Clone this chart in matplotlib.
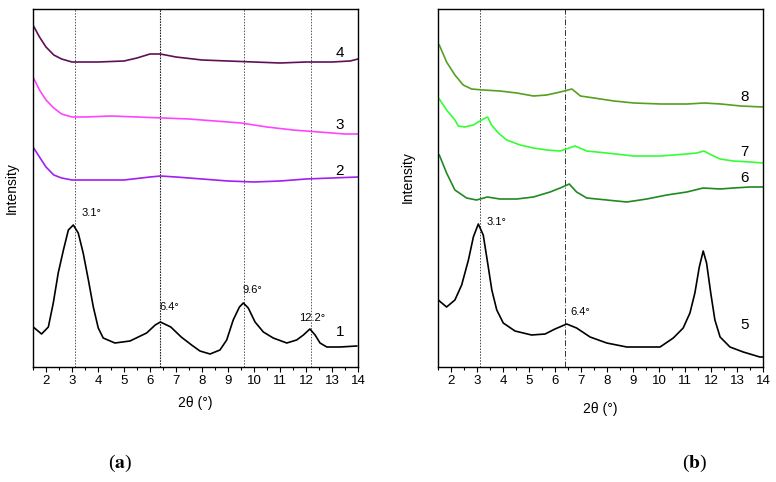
import matplotlib
matplotlib.use("Agg")
import matplotlib.pyplot as plt
from matplotlib.ticker import MultipleLocator

plt.rcParams['font.family'] = ['Liberation Sans', 'DejaVu Sans']
plt.rcParams['mathtext.fontset'] = 'stix'

# intensity in arbitrary units
# panel (a)
x1 = [1.51, 1.83, 2.09, 2.28, 2.47, 2.67, 2.86, 3.05, 3.24, 3.43, 3.63, 3.82, 4.01, 4.2, 4.65, 5.23, 5.87,
      6.2, 6.4, 6.8, 7.2, 7.6, 7.92, 8.31, 8.69, 8.95, 9.2, 9.44, 9.59, 9.78, 10.04, 10.36, 10.74, 11.26,
      11.64, 11.9, 12.15, 12.35, 12.54, 12.8, 13.31, 13.95]
y1 = [40, 33, 40, 64, 94, 117, 137, 142, 134, 114, 87, 60, 39, 29, 24, 26, 34,
      42, 45, 40, 30, 22, 16, 13, 17, 27, 47, 60, 64, 59, 45, 35, 29, 24,
      27, 32, 38, 32, 24, 20, 20, 21]

x2 = [1.5, 1.75, 2.0, 2.3, 2.6, 3.0, 4.0, 5.0, 6.0, 6.4, 7.0, 8.0, 9.0, 10.0, 11.0, 12.0, 13.0, 14.0]
y2 = [220, 210, 200, 192, 189, 187, 187, 187, 190, 191, 190, 188, 186, 185, 186, 188, 189, 190]

x3 = [1.5, 1.75, 2.0, 2.3, 2.6, 3.0, 3.5, 4.5, 5.5, 6.5, 7.5, 8.5, 9.5, 10.5, 11.5, 12.5, 13.5, 14.0]
y3 = [290, 277, 267, 259, 253, 250, 250, 251, 250, 249, 248, 246, 244, 240, 237, 235, 233, 233]

x4 = [1.5, 1.75, 2.0, 2.3, 2.6, 3.0, 4.0, 5.0, 5.5, 6.0, 6.4, 7.0, 8.0, 9.0, 10.0, 11.0, 12.0, 13.0, 13.7, 14.0]
y4 = [342, 330, 320, 312, 308, 305, 305, 306, 309, 313, 313, 310, 307, 306, 305, 304, 305, 305, 306, 308]

# panel (b)
x5 = [1.51, 1.83, 2.15, 2.41, 2.67, 2.86, 3.05, 3.24, 3.41, 3.57, 3.76, 4.01, 4.46, 5.1, 5.62, 6.0, 6.45,
      6.83, 7.35, 7.99, 8.76, 9.53, 10.04, 10.55, 10.93, 11.19, 11.38, 11.55, 11.7, 11.83, 11.99, 12.15,
      12.35, 12.73, 13.24, 13.88, 14.0]
y5 = [67, 60, 67, 82, 107, 130, 143, 132, 104, 77, 57, 44, 36, 32, 33, 38, 43,
      39, 30, 24, 20, 20, 20, 29, 39, 54, 74, 100, 116, 104, 74, 47,
      30, 20, 15, 10, 10]

x6 = [1.55, 1.83, 2.15, 2.6, 2.98, 3.4, 3.88, 4.53, 5.17, 5.81, 6.2, 6.55, 6.83, 7.22, 7.99, 8.76, 9.53,
      10.3, 11.07, 11.7, 12.35, 12.86, 13.5, 13.99]
y6 = [212, 194, 177, 169, 167, 170, 168, 168, 170, 175, 179, 183, 175, 169, 167, 165, 168,
      172, 175, 179, 178, 179, 180, 180]

x7 = [1.55, 1.83, 2.15, 2.28, 2.53, 2.86, 3.05, 3.25, 3.41, 3.56, 3.82, 4.14, 4.66, 5.17, 5.68, 6.2, 6.77,
      7.22, 7.99, 9.02, 10.04, 11.07, 11.45, 11.73, 12.02, 12.35, 12.86, 13.5, 13.99]
y7 = [268, 257, 247, 241, 240, 242, 245, 248, 250, 242, 234, 227, 222, 219, 217, 216, 221,
      216, 214, 211, 211, 213, 214, 216, 212, 208, 206, 205, 204]

x8 = [1.55, 1.83, 2.15, 2.47, 2.79, 3.24, 3.88, 4.53, 5.17, 5.68, 6.2, 6.65, 6.98, 7.5, 8.27, 9.04,
      10.07, 11.1, 11.74, 12.38, 13.15, 13.99]
y8 = [322, 305, 292, 282, 278, 277, 276, 274, 271, 272, 275, 278, 271, 269, 266, 264, 263, 263, 264, 263, 261, 260]

# line colours
c1 = '#000000'
c2 = '#a020f0'
c3 = '#ff44ff'
c4 = '#5e1055'
c5 = '#000000'
c6 = '#1f8a1f'
c7 = '#33ff33'
c8 = '#56a020'

W, H = 776, 482
fig = plt.figure(figsize=(W / 100, H / 100), dpi=100)
axa = fig.add_axes([33 / W, (H - 367) / H, 325 / W, 358 / H])
axb = fig.add_axes([438 / W, (H - 367) / H, 325 / W, 358 / H])


def setup(ax):
    ax.set_xlim(1.5, 14)
    ax.set_ylim(0, 358)
    ax.xaxis.set_major_locator(MultipleLocator(1))
    ax.xaxis.set_minor_locator(MultipleLocator(0.5))
    ax.tick_params(axis='x', which='major', direction='out', length=3.5, width=0.8,
                   labelsize=9.5, pad=2)
    ax.tick_params(axis='x', which='minor', direction='out', length=2, width=0.8)
    ax.set_yticks([])
    for s in ax.spines.values():
        s.set_linewidth(1.0)
    ax.set_xlabel('2θ (°)', fontsize=10)
    ax.set_ylabel('Intensity', fontsize=10)


setup(axa)
setup(axb)
axa.xaxis.set_label_coords(0.5, -0.08)
axb.xaxis.set_label_coords(0.5, -0.097)
axa.yaxis.set_label_coords(-0.045, 0.5)
axb.yaxis.set_label_coords(-0.07, 0.53)

# reference lines
for pos in [3.1, 9.6, 12.2]:
    axa.axvline(pos, color='#555555', ls=(0, (1.5, 1.5)), lw=0.7, zorder=1)
axa.axvline(6.4, color='#222222', ls=(0, (1.5, 1)), lw=0.8, zorder=1)
axb.axvline(3.1, color='#444444', ls=(0, (1.5, 1.5)), lw=0.7, zorder=1)
axb.axvline(6.4, color='#333333', ls=(0, (6, 2, 1, 2)), lw=0.7, zorder=1)

lw = 1.2
axa.plot(x1, y1, color=c1, lw=lw)
axa.plot(x2, y2, color=c2, lw=lw)
axa.plot(x3, y3, color=c3, lw=lw)
axa.plot(x4, y4, color=c4, lw=lw)

axb.plot(x5, y5, color=c5, lw=lw)
axb.plot(x6, y6, color=c6, lw=lw)
axb.plot(x7, y7, color=c7, lw=lw)
axb.plot(x8, y8, color=c8, lw=lw)

# curve numbers
fs = 11
axa.text(13.3, 35, '1', fontsize=fs, ha='center', va='center')
axa.text(13.3, 196, '2', fontsize=fs, ha='center', va='center')
axa.text(13.3, 242, '3', fontsize=fs, ha='center', va='center')
axa.text(13.3, 314, '4', fontsize=fs, ha='center', va='center')
axb.text(13.3, 42, '5', fontsize=fs, ha='center', va='center')
axb.text(13.3, 189, '6', fontsize=fs, ha='center', va='center')
axb.text(13.3, 215, '7', fontsize=fs, ha='center', va='center')
axb.text(13.3, 270, '8', fontsize=fs, ha='center', va='center')

# peak positions
fa = 8
axa.text(3.35, 154, '3.1°', fontsize=fa, ha='left', va='center')
axa.text(6.35, 60, '6.4°', fontsize=fa, ha='left', va='center')
axa.text(9.55, 77, '9.6°', fontsize=fa, ha='left', va='center')
axa.text(12.25, 49, '12.2°', fontsize=fa, ha='center', va='center')
axb.text(3.35, 145, '3.1°', fontsize=fa, ha='left', va='center')
axb.text(6.6, 55, '6.4°', fontsize=fa, ha='left', va='center')

fig.text(120 / W, 1 - 463 / H, r'($\mathbf{a}$)', fontsize=14, ha='center', va='center',
         family=['Liberation Serif', 'DejaVu Serif'])
fig.text(695 / W, 1 - 463 / H, r'($\mathbf{b}$)', fontsize=14, ha='center', va='center',
         family=['Liberation Serif', 'DejaVu Serif'])

fig.savefig('out.png', dpi=100)
